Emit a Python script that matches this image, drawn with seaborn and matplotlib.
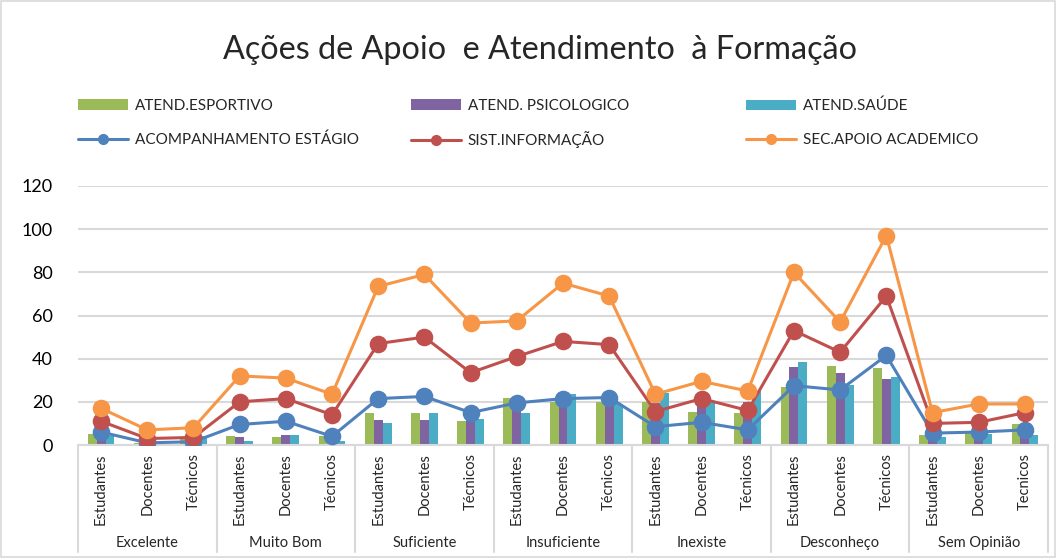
import numpy as np
import pandas as pd
import matplotlib
matplotlib.use("Agg")
import matplotlib.pyplot as plt
import matplotlib.transforms as mtransforms
from matplotlib.patches import Patch, Rectangle
from matplotlib.lines import Line2D
import seaborn as sns

# categorias (grupo x público)
grupos = ['Excelente', 'Muito Bom', 'Suficiente', 'Insuficiente', 'Inexiste', 'Desconheço', 'Sem Opinião']
publicos = ['Estudantes', 'Docentes', 'Técnicos',
            'Estudantes', 'Docentes', 'Técnicos',
            'Estudantes', 'Docentes', 'Técnicos',
            'Estudantes', 'Docentes', 'Técnicos',
            'Estudantes', 'Docentes', 'Técnicos',
            'Estudantes', 'Docentes', 'Técnicos',
            'Estudantes', 'Docentes', 'Tecnicos']

# series em barras
esportivo = [5, 1, 3, 4, 3.5, 4, 15, 15, 11, 22, 20, 20, 20, 15.5, 15, 27, 36.5, 35.5, 4.5, 5.5, 9.5]
psicologico = [4, 0.5, 2, 3.5, 4.5, 2, 11.5, 11.5, 13, 20, 22, 22, 19.5, 20, 20, 36, 33.5, 30.5, 4, 5, 5]
saude = [4, 1.5, 4, 2, 4.5, 2, 10, 15, 12, 15, 23.5, 19, 24, 20.5, 25, 38.5, 28, 31.5, 3.5, 5, 4.5]

# series em linhas
acompanhamento = [6, 1, 1.5, 9.5, 11, 4, 21.5, 22.5, 15, 19.5, 21.5, 22, 8.5, 10.5, 7, 27.5, 25.5, 41.5, 5.5, 6, 7]
sist_info = [11, 3, 3.5, 20, 21.5, 14, 47, 50, 33.5, 41, 48, 46.5, 15.5, 21.5, 16, 53, 43, 69, 10, 10.5, 15]
sec_apoio = [17, 7, 8, 32, 31, 23.5, 73.5, 79, 56.5, 57.5, 75, 69, 23.5, 29.5, 25, 80, 57, 97, 15, 19, 19]

nomes_barras = ['ATEND.ESPORTIVO', 'ATEND. PSICOLOGICO', 'ATEND.SAÚDE']
nomes_linhas = ['ACOMPANHAMENTO ESTÁGIO', 'SIST.INFORMAÇÃO', 'SEC.APOIO ACADEMICO']
cores_barras = ['#9BBB59', '#8064A2', '#4BACC6']
cores_linhas = ['#4F81BD', '#C0504D', '#F79646']

chaves = [f"{grupos[i // 3]}|{publicos[i]}" for i in range(len(publicos))]

df_barras = pd.DataFrame({
    'chave': chaves * 3,
    'valor': esportivo + psicologico + saude,
    'serie': np.repeat(nomes_barras, len(chaves)),
})

sns.set_style("white")
plt.rcParams['font.family'] = ['Lato', 'DejaVu Sans']

fig = plt.figure(figsize=(10.57, 5.58), dpi=100)
ax = fig.add_axes([78 / 1057, 1 - 445 / 558, (1048 - 78) / 1057, (445 - 186) / 558])

sns.barplot(data=df_barras, x='chave', y='valor', hue='serie', order=chaves,
            hue_order=nomes_barras, palette=cores_barras, width=0.58,
            saturation=1, linewidth=0, legend=False, ax=ax, zorder=2)

for nome, vals, cor in zip(nomes_linhas, [acompanhamento, sist_info, sec_apoio], cores_linhas):
    df_l = pd.DataFrame({'chave': chaves, 'valor': vals})
    sns.pointplot(data=df_l, x='chave', y='valor', order=chaves, color=cor,
                  markers='o', markersize=11, linewidth=2.2, errorbar=None, ax=ax)
for i, coll in enumerate(ax.collections):
    coll.set_zorder(3 + i)
for i, ln in enumerate(ax.lines):
    ln.set_zorder(3 + i)

ax.set_ylim(0, 120)
ax.set_yticks(range(0, 121, 20))
ax.tick_params(axis='y', labelsize=13, length=0, pad=18, colors='#000000')
ax.set_xticks(range(len(publicos)))
ax.set_xticklabels(publicos, rotation=90, fontsize=10.5)
ax.tick_params(axis='x', length=0, pad=6)
ax.set_xlim(-0.5, len(publicos) - 0.5)
ax.set_xlabel('')
ax.set_ylabel('')
ax.grid(axis='y', color='#D9D9D9', linewidth=1.5, zorder=0)
ax.set_axisbelow(True)
for s in ['top', 'right', 'left']:
    ax.spines[s].set_visible(False)
ax.spines['bottom'].set_color('#D9D9D9')
ax.spines['bottom'].set_linewidth(1.5)

# eixo em dois niveis
trans = mtransforms.blended_transform_factory(ax.transData, ax.transAxes)
fundo = -(552 - 445) / (445 - 186)
for b in np.arange(-0.5, len(publicos), 3):
    ax.plot([b, b], [0, fundo], color='#D9D9D9', linewidth=1.5, transform=trans, clip_on=False)
for g, nome in enumerate(grupos):
    ax.text(g * 3 + 1, -(543 - 445) / (445 - 186), nome, transform=trans,
            ha='center', va='center', fontsize=10.5)

fig.text(540 / 1057, 1 - 50 / 558, 'Ações de Apoio  e Atendimento  à Formação',
         ha='center', va='center', fontsize=23.3)

# legenda: uma entrada por posicao
xs_leg = [78, 411, 746]
ys_leg = [106, 140]
for k in range(3):
    entradas = [(Patch(facecolor=cores_barras[k], edgecolor='none'), nomes_barras[k]),
                (Line2D([0], [0], color=cores_linhas[k], linewidth=2.2, marker='o', markersize=7),
                 nomes_linhas[k])]
    for r, (h, lab) in enumerate(entradas):
        fig.legend([h], [lab], loc='center left',
                   bbox_to_anchor=(xs_leg[k] / 1057, 1 - ys_leg[r] / 558), frameon=False,
                   fontsize=11, handlelength=3.3, handletextpad=0.4,
                   borderaxespad=0, borderpad=0)

fig.patches.append(Rectangle((0.001, 0.001), 0.997, 0.997, transform=fig.transFigure,
                             fill=False, edgecolor='#D9D9D9', linewidth=1.2))

fig.savefig('out.png', dpi=100)
